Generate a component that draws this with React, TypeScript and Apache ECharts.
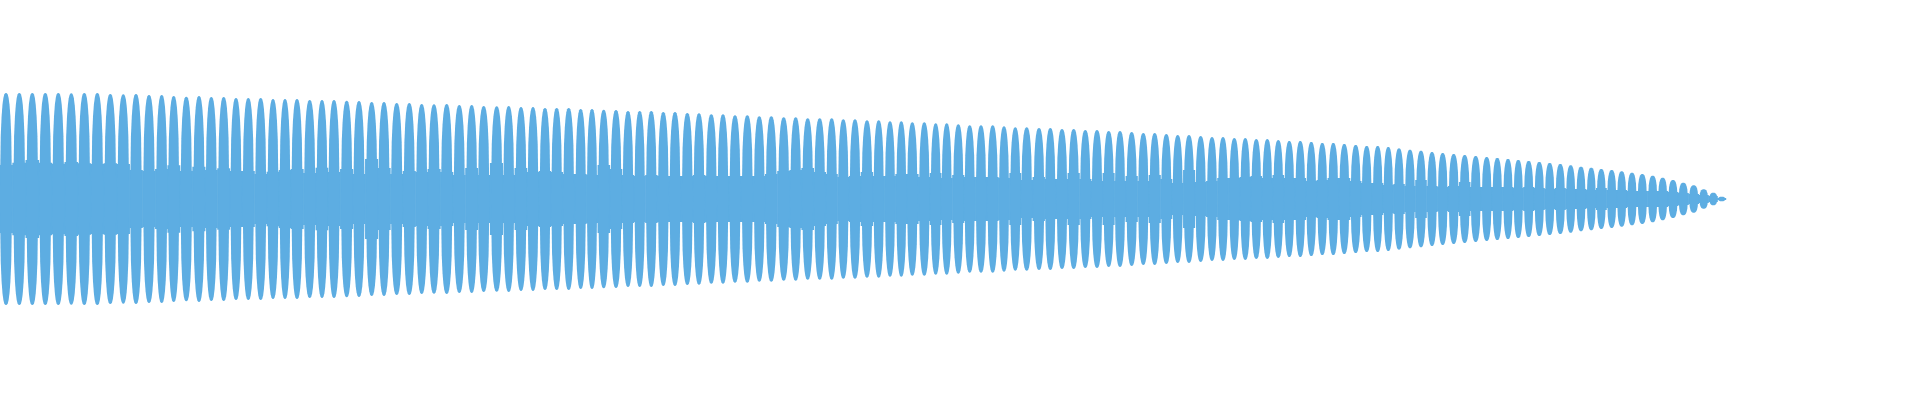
import React, { useEffect, useRef } from 'react';
import * as echarts from 'echarts';

const WAVE_COLOR = '#5dade2';

// centre of every lobe of the waveform (x in px of the 1920 wide plot)
const LOBE_X = [
  6, 19.3, 32.3, 45.3, 58.3, 71.3, 84.3, 97.3, 110.3, 123.3, 136, 149, 161.7, 173.7, 186.3, 199, 211.3, 223.7,
  236, 248.3, 260.7, 273, 285, 297, 309.7, 322, 334,
  346.7, 359, 371.7, 384, 396.7, 409.3, 421.7, 434, 446.7, 459.3, 471.7, 483.7, 496.7, 508.7, 521, 533, 545,
  556.7, 568.7, 580.7, 592, 603.7, 616, 628, 639.7, 651.3, 663.3, 675, 687.3,
  699, 711.3, 723, 735, 747.3, 759.3, 771.3, 783.7, 795.7, 807.7, 819.7, 831.7, 843.3, 855, 867, 878.7, 890,
  901.3, 912.3, 924.3, 935.7, 946.7, 958.3, 969.7, 981, 992.7, 1004, 1015.3, 1026.7,
  1039, 1050.3, 1062, 1073.7, 1085.3, 1097, 1108.7, 1120, 1131.7, 1143.3, 1154.7, 1166.3, 1177.7, 1189, 1200.7,
  1212, 1223, 1234.3, 1245.3, 1256.3, 1267.3, 1278.3, 1289.3, 1300.3, 1311.3, 1322.3, 1333.3, 1344.3, 1355.7,
  1366.7, 1377.7,
  1388.3, 1399, 1410, 1421, 1432, 1442.7, 1453.7, 1464.7, 1475.7, 1486.7, 1497.3, 1508, 1518.3, 1528.7, 1539.3,
  1549.7, 1560.3, 1570.7, 1581, 1591.3, 1601.3, 1611.7, 1621.7, 1632, 1642.3, 1652.7, 1662.7, 1673, 1683.3,
  1693.7, 1703.7, 1713.3, 1721.7,
];

// peak amplitude of each lobe
const LOBE_PEAK = [
  106, 106, 106, 106, 106, 105.7, 106, 106, 105, 104.7, 105, 104, 104, 103, 102.3, 103, 102, 102, 101, 101, 101,
  100, 100, 100, 99, 99, 99,
  98.3, 98, 97, 97, 96, 96, 95, 94.7, 95, 94, 94, 93, 92.7, 93, 92, 92, 91, 91, 91, 90, 90, 89.3, 89, 88, 88, 88,
  87, 87, 86,
  85.7, 84.7, 84.7, 83.7, 83.7, 82.7, 82.7, 81.7, 81.7, 80.7, 80.7, 80.7, 79.7, 79.7, 78.7, 78.7, 77.7, 77.7,
  76.7, 76.7, 75.7, 75.7, 74.7, 73.7, 73.7, 73.7, 72.7, 71.7, 71.7,
  71, 71, 70, 70, 69, 69, 68, 68, 67, 66, 66, 65, 64, 64, 63, 62, 62, 61, 61, 60, 60, 59, 58, 58, 57, 56, 56, 55,
  54, 53, 53,
  52, 50.7, 49.3, 48.3, 47, 46, 45, 44, 43, 42, 41, 40, 39, 38, 37, 36, 35, 33.7, 32.3, 31.3, 30, 29, 27.7, 26.3,
  25, 23.3, 21.3, 19, 16.3, 13.7, 9.7, 6.3, 2.3,
];

// depth of the gap next to each lobe (the solid core band)
const LOBE_FLOOR = [
  34, 36.3, 39, 36.3, 35.3, 37, 35.7, 35, 35.7, 35, 29, 28, 30, 33.7, 28, 32.3, 29, 30.7, 28, 28, 25, 27.3, 29, 30,
  26, 31.3, 27,
  30, 25, 40, 31, 25, 28, 27, 30, 27, 24, 31, 24, 36, 24, 31, 27, 28, 27, 25, 25, 24, 34, 30, 24, 23, 24, 23, 23,
  23,
  24, 23, 23, 23, 23, 23, 25, 28, 29, 31, 27, 25, 22, 23, 27, 23, 23, 25, 25, 22, 26, 21, 24, 22, 22, 22, 21, 26,
  19,
  22, 20, 20, 26, 20, 18, 26, 18, 23, 18, 24, 20, 16, 29, 17, 18, 21, 21, 22, 23, 21, 24, 21, 21, 18, 19, 21, 21,
  18, 16, 16,
  14, 15, 13, 19, 13, 12, 13, 17, 12, 12, 12, 12, 11, 12, 11, 10, 11, 10, 10, 9, 11, 9, 9, 8, 8, 8, 8, 7, 6, 5, 4,
  3, 1,
];

// [centre, peak, floor, left edge, right edge]
const lobeData = LOBE_X.map((x, i) => {
  const prev = i > 0 ? LOBE_X[i - 1] : x - (LOBE_X[1] - LOBE_X[0]);
  const next = i < LOBE_X.length - 1 ? LOBE_X[i + 1] : x + (x - LOBE_X[i - 1]);
  return [x, LOBE_PEAK[i], LOBE_FLOOR[i], (prev + x) / 2, (x + next) / 2];
});

// lobe outline: a rounded, slightly squared ellipse
const LOBE_EXP = 2.8;
const LOBE_STEPS = 14;

const renderLobe = (params: any, api: any) => {
  const x = api.value(0);
  const center = api.coord([x, 0]);
  const top = api.coord([x, api.value(1)]);
  const bandTL = api.coord([api.value(3), api.value(2)]);
  const bandBR = api.coord([api.value(4), -api.value(2)]);
  const rx = Math.max((bandBR[0] - bandTL[0]) / 2 - 0.5, 0.5);
  const ry = center[1] - top[1];

  const upper: number[][] = [];
  const lower: number[][] = [];
  for (let k = 0; k <= LOBE_STEPS; k++) {
    const t = -1 + (2 * k) / LOBE_STEPS;
    const h = ry * Math.sqrt(Math.max(1 - Math.pow(Math.abs(t), LOBE_EXP), 0));
    upper.push([center[0] + t * rx, center[1] - h]);
    lower.unshift([center[0] + t * rx, center[1] + h]);
  }

  const style = { fill: WAVE_COLOR };
  return {
    type: 'group',
    children: [
      {
        type: 'rect',
        shape: {
          x: bandTL[0] - 0.3,
          y: bandTL[1],
          width: bandBR[0] - bandTL[0] + 0.6,
          height: bandBR[1] - bandTL[1],
        },
        style,
      },
      {
        type: 'polygon',
        shape: { points: upper.concat(lower) },
        style,
      },
    ],
  };
};

const App = (): JSX.Element => {
  const divEL = useRef(null);

  useEffect(() => {
    const instance = echarts.init(divEL.current as any, null, { renderer: 'svg' });

    const option: any = {
      animation: false,
      grid: { left: 0, right: 0, top: 0, bottom: 0 },
      xAxis: { type: 'value', min: 0, max: 1920, show: false },
      yAxis: { type: 'value', min: -201, max: 199, show: false },
      series: [
        {
          type: 'custom',
          name: 'signal',
          renderItem: renderLobe,
          clip: true,
          encode: { x: [0, 3, 4], y: [1, 2] },
          data: lobeData,
        },
      ],
    };
    instance.setOption(option);

    return () => {
      instance.dispose();
    };
  }, []);

  return (
    <div
      ref={divEL}
      style={{ position: 'absolute', left: 0, top: 0, width: 1920, height: 400 }}
    ></div>
  );
};

export default App;
